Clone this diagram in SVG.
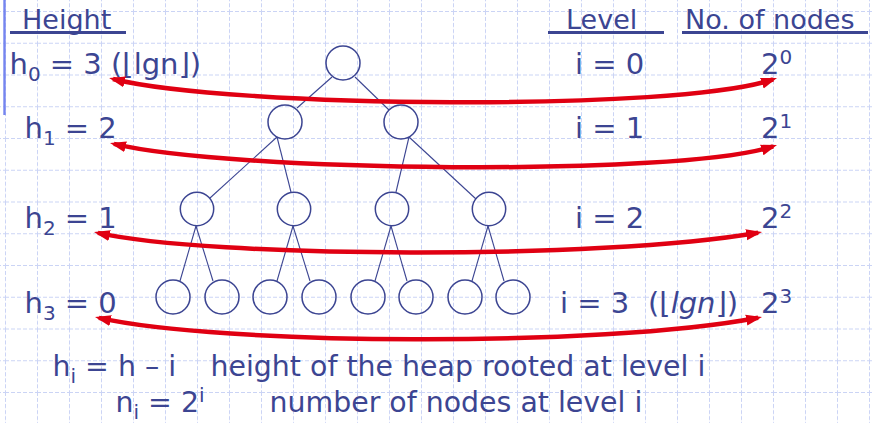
<svg xmlns="http://www.w3.org/2000/svg" width="872" height="423" viewBox="0 0 872 423">
<defs>
<pattern id="grid" patternUnits="userSpaceOnUse" x="5" y="11" width="32" height="31.75">
<path d="M0,0.5 H32 M0.5,0 V31.75" fill="none" stroke="#cbd4f5" stroke-width="1" stroke-dasharray="4 2"/>
</pattern>
<marker id="ah" markerUnits="userSpaceOnUse" markerWidth="16" markerHeight="12" viewBox="0 0 16 12" refX="12" refY="6" orient="auto-start-reverse">
<path d="M0,0.5 L16,6 L0,11.5 z" fill="#e00012"/>
</marker>
<style>
.t{font-family:"DejaVu Sans",Verdana,sans-serif;font-size:29px;fill:#3c4592}
.lg{font-size:28.4px}
.hd{font-size:27px}
.s{font-size:20px}
.it{font-style:italic}
.ul{fill:#3c4592}
.nd{fill:none;stroke:#3c4592;stroke-width:1.5}
.ed{stroke:#3c4592;stroke-width:1.1;fill:none}
.arc{fill:none;stroke:#e00012;stroke-width:4.5;marker-start:url(#ah);marker-end:url(#ah)}
</style>
</defs>
<rect x="0" y="0" width="872" height="423" fill="#ffffff"/>
<rect x="0" y="0" width="872" height="423" fill="url(#grid)"/>
<rect x="3.3" y="0" width="2.4" height="115" fill="#7585ef"/>

<g id="headings">
<text class="t hd" x="22" y="29">Height</text>
<rect class="ul" x="10" y="31" width="116" height="3"/>
<text class="t hd" x="566" y="29">Level</text>
<rect class="ul" x="548" y="31" width="116" height="3"/>
<text class="t hd" x="685" y="29">No. of nodes</text>
<rect class="ul" x="682" y="31" width="186" height="3"/>
</g>

<g id="heights">
<text class="t" x="9.5" y="74">h<tspan class="s" dy="7">0</tspan><tspan dy="-7"> = 3 (⌊lgn⌋)</tspan></text>
<text class="t" x="24.5" y="138">h<tspan class="s" dy="7">1</tspan><tspan dy="-7"> = 2</tspan></text>
<text class="t" x="24.5" y="228">h<tspan class="s" dy="7">2</tspan><tspan dy="-7"> = 1</tspan></text>
<text class="t" x="24.5" y="313">h<tspan class="s" dy="7">3</tspan><tspan dy="-7"> = 0</tspan></text>
</g>

<g id="levels">
<text class="t" x="575" y="74">i = 0</text>
<text class="t" x="575" y="138">i = 1</text>
<text class="t" x="575" y="228">i = 2</text>
<text class="t" x="560" y="313">i = 3</text>
<text class="t" x="648" y="313">(⌊<tspan class="it">lgn</tspan>⌋)</text>
</g>

<g id="counts">
<text class="t" x="761" y="74">2<tspan class="s" dy="-10">0</tspan></text>
<text class="t" x="761" y="138">2<tspan class="s" dy="-10">1</tspan></text>
<text class="t" x="761" y="228">2<tspan class="s" dy="-10">2</tspan></text>
<text class="t" x="761" y="313">2<tspan class="s" dy="-10">3</tspan></text>
</g>

<g id="connectors">
<line class="ed" x1="332" y1="77" x2="297" y2="108"/>
<line class="ed" x1="355" y1="77" x2="389" y2="110"/>
<line class="ed" x1="277" y1="137" x2="210" y2="198"/>
<line class="ed" x1="277" y1="137" x2="291" y2="192"/>
<line class="ed" x1="409" y1="137" x2="396" y2="192"/>
<line class="ed" x1="409" y1="137" x2="476" y2="199"/>
<line class="ed" x1="196" y1="226" x2="180" y2="281"/>
<line class="ed" x1="196" y1="226" x2="213" y2="281"/>
<line class="ed" x1="293" y1="226" x2="277" y2="281"/>
<line class="ed" x1="293" y1="226" x2="310" y2="281"/>
<line class="ed" x1="391" y1="226" x2="375" y2="281"/>
<line class="ed" x1="391" y1="226" x2="407" y2="281"/>
<line class="ed" x1="488" y1="226" x2="472" y2="281"/>
<line class="ed" x1="488" y1="226" x2="504" y2="281"/>
</g>

<g id="n0"><circle class="nd" cx="343" cy="63" r="17"/></g>
<g id="n1"><circle class="nd" cx="285" cy="122" r="17"/></g>
<g id="n2"><circle class="nd" cx="401" cy="122" r="17"/></g>
<g id="n3"><circle class="nd" cx="197" cy="209" r="16.7"/></g>
<g id="n4"><circle class="nd" cx="294" cy="209" r="16.7"/></g>
<g id="n5"><circle class="nd" cx="392" cy="209" r="16.7"/></g>
<g id="n6"><circle class="nd" cx="489" cy="209" r="16.7"/></g>
<g id="n7"><circle class="nd" cx="173" cy="297" r="17"/></g>
<g id="n8"><circle class="nd" cx="222" cy="297" r="17"/></g>
<g id="n9"><circle class="nd" cx="270" cy="297" r="17"/></g>
<g id="n10"><circle class="nd" cx="319" cy="297" r="17"/></g>
<g id="n11"><circle class="nd" cx="368" cy="297" r="17"/></g>
<g id="n12"><circle class="nd" cx="416" cy="297" r="17"/></g>
<g id="n13"><circle class="nd" cx="465" cy="297" r="17"/></g>
<g id="n14"><circle class="nd" cx="513" cy="297" r="17"/></g>

<g id="arrows">
<path class="arc" d="M113,79 C230,108 680,112 773.2,79.3"/>
<path class="arc" d="M113.9,143.9 C230,172 680,177 773.2,146.3"/>
<path class="arc" d="M97.9,232.9 C210,258 600,260 758.1,232.7"/>
<path class="arc" d="M98.9,317.9 C220,345 600,348 758.1,317.8"/>
</g>

<g id="legend">
<text class="t lg" x="52.5" y="376">h<tspan class="s" dy="7">i</tspan><tspan dy="-7"> = h – i</tspan></text>
<text class="t lg" x="210.5" y="376">height of the heap rooted at level i</text>
<text class="t lg" x="115.5" y="412">n<tspan class="s" dy="7">i</tspan><tspan dy="-7"> = 2</tspan><tspan class="s" dy="-10">i</tspan></text>
<text class="t lg" x="269.5" y="412">number of nodes at level i</text>
</g>
</svg>
